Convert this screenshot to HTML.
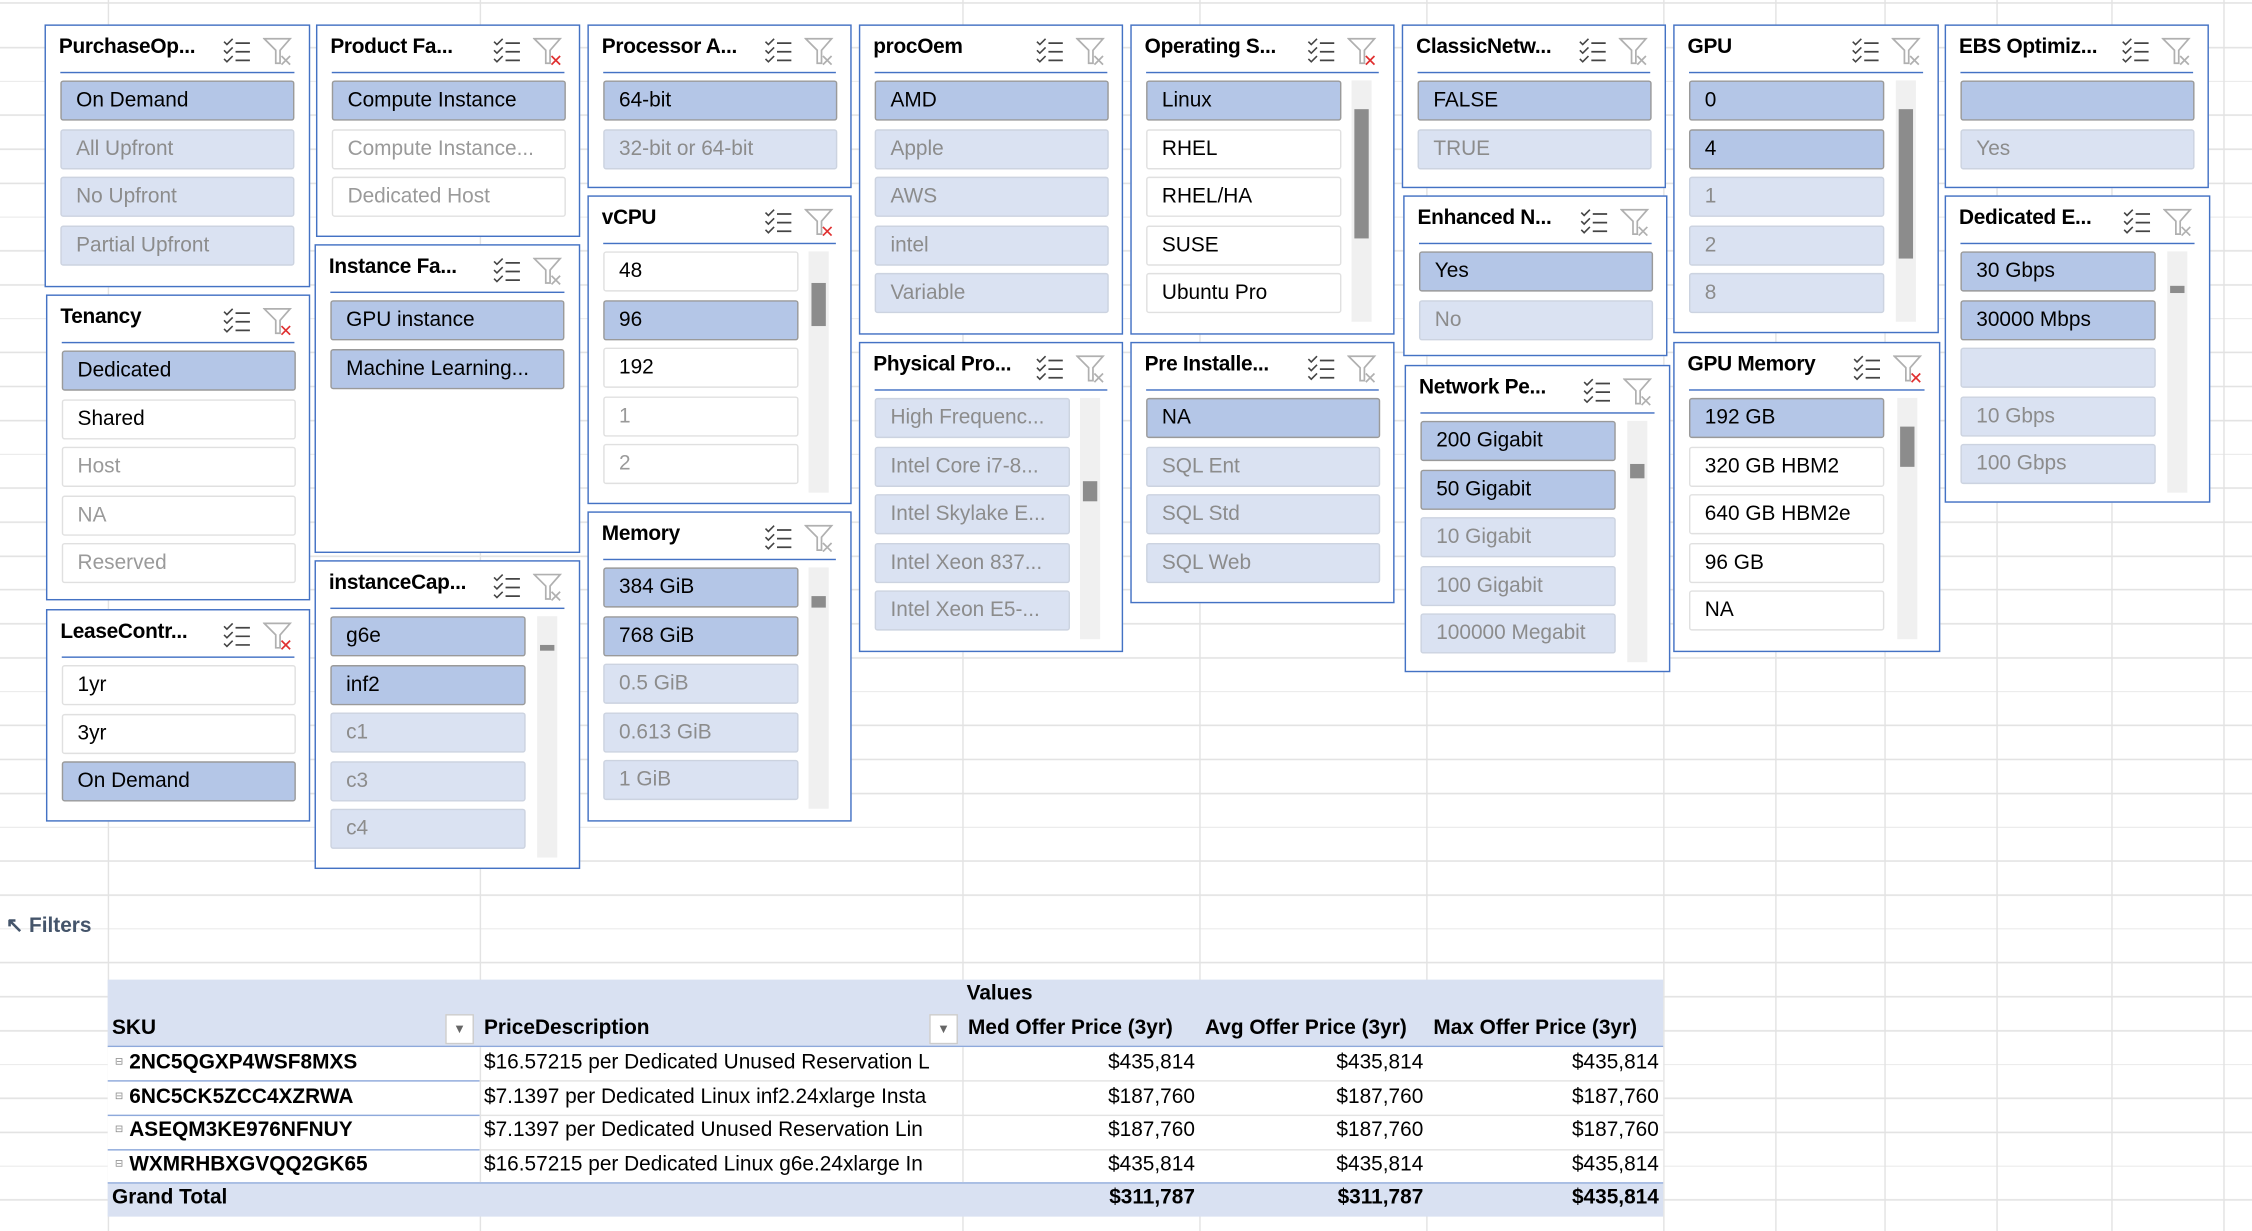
<!DOCTYPE html>
<html><head><meta charset="utf-8">
<style>
html,body{margin:0;padding:0;background:#fff;overflow:hidden}
#stage{position:absolute;left:0;top:0;width:1568px;height:857px;transform:scale(1.43622,1.4364);transform-origin:0 0;
 font-family:"Liberation Sans",sans-serif;
 background-image:repeating-linear-gradient(to bottom,transparent 0,transparent 22.6px,#e3e3e3 22.6px,#e3e3e3 23.6px);
 background-position:0 10px;}
.vl{position:absolute;top:0;width:1px;height:857px;background:#e3e3e3}
.slicer{position:absolute;background:#fff;border:1px solid #4472c4;box-sizing:border-box}
.st{position:absolute;left:9px;top:7px;font-weight:bold;font-size:14.5px;color:#000;letter-spacing:-0.2px}
.ul{position:absolute;left:10px;right:10px;top:32px;height:1px;background:#4472c4}
.it{position:absolute;height:28px;box-sizing:border-box;border:1px solid #e0e0e0;border-radius:2px;font-size:14.5px;line-height:26px;padding-left:10px;white-space:nowrap;overflow:hidden}
.sel{background:#b4c6e7;border-color:#9a9a9a;color:#000}
.selnd{background:#dae2f2;border-color:#ccd3e0;color:#8c8c8c}
.un{background:#fff;color:#000}
.und{background:#fff;color:#9a9a9a}
.sb{position:absolute;width:14px;background:#f0f0f0}
.th{position:absolute;left:2px;width:10px;background:#8c8c8c}
.ic{position:absolute;top:8px}
.tb{position:absolute;font-size:14.5px;white-space:nowrap}
.b{font-weight:bold}
</style></head><body>
<div id="stage">
<div class="vl" style="left:75px"></div><div class="vl" style="left:334px"></div><div class="vl" style="left:670px"></div>
<div class="vl" style="left:835px"></div><div class="vl" style="left:993px"></div><div class="vl" style="left:1158px"></div>
<div class="vl" style="left:1236px"></div><div class="vl" style="left:1312px"></div><div class="vl" style="left:1390px"></div><div class="vl" style="left:1470px"></div><div class="vl" style="left:1548px"></div>

<div id="slicers"></div>

<div class="tb" style="left:4px;top:637px;color:#44546a"><span style="font-weight:bold">↖ Filters</span></div>

<div>
<div style="position:absolute;left:75px;top:682px;width:1083px;height:47px;background:#d9e1f2"></div>
<div style="position:absolute;left:75px;top:823px;width:1083px;height:24px;background:#d9e1f2;border-top:1px solid #8ea9db;box-sizing:border-box"></div>
<div style="position:absolute;left:75px;top:728px;width:1083px;height:1px;background:#8ea9db"></div>
<div style="position:absolute;left:75px;top:729px;width:1083px;height:94px;background:#fff"></div>
<div style="position:absolute;left:75px;top:752px;width:259px;height:1px;background:#8ea9db"></div>
<div style="position:absolute;left:75px;top:776px;width:259px;height:1px;background:#8ea9db"></div>
<div style="position:absolute;left:75px;top:800px;width:259px;height:1px;background:#8ea9db"></div>
<div style="position:absolute;left:334px;top:752px;width:824px;height:1px;background:#e3e3e3"></div>
<div style="position:absolute;left:334px;top:776px;width:824px;height:1px;background:#e3e3e3"></div>
<div style="position:absolute;left:334px;top:800px;width:824px;height:1px;background:#e3e3e3"></div>
<div style="position:absolute;left:334px;top:729px;width:1px;height:94px;background:#e3e3e3"></div>
<div style="position:absolute;left:670px;top:729px;width:1px;height:94px;background:#e3e3e3"></div>
<div class="tb b" style="left:673px;top:684px">Values</div>
<div class="tb b" style="left:78px;top:708px">SKU</div>
<div style="position:absolute;left:310px;top:706px;width:20px;height:21px;background:#fff;border:1px solid #ccc;box-sizing:border-box;font-size:9px;color:#666;text-align:center;line-height:19px">▼</div>
<div class="tb b" style="left:337px;top:708px">PriceDescription</div>
<div style="position:absolute;left:647px;top:706px;width:20px;height:21px;background:#fff;border:1px solid #ccc;box-sizing:border-box;font-size:9px;color:#666;text-align:center;line-height:19px">▼</div>
<div class="tb b" style="left:674px;top:708px">Med Offer Price (3yr)</div>
<div class="tb b" style="left:839px;top:708px">Avg Offer Price (3yr)</div>
<div class="tb b" style="left:998px;top:708px">Max Offer Price (3yr)</div>
<div id="rows"></div>
</div>
</div>
<script>
const slicerDefs=[
 ['PurchaseOp...',31,17,216-31,200-17,false,[['On Demand','sel'],['All Upfront','selnd'],['No Upfront','selnd'],['Partial Upfront','selnd']],null],
 ['Tenancy',32,205,184,213,true,[['Dedicated','sel'],['Shared','un'],['Host','und'],['NA','und'],['Reserved','und']],null],
 ['LeaseContr...',32,424,184,148,true,[['1yr','un'],['3yr','un'],['On Demand','sel']],null],
 ['Product Fa...',220,17,184,148,true,[['Compute Instance','sel'],['Compute Instance...','und'],['Dedicated Host','und']],null],
 ['Instance Fa...',219,170,185,215,false,[['GPU instance','sel'],['Machine Learning...','sel']],null],
 ['instanceCap...',219,390,185,215,false,[['g6e','sel'],['inf2','sel'],['c1','selnd'],['c3','selnd'],['c4','selnd']],[20,4]],
 ['Processor A...',409,17,184,114,false,[['64-bit','sel'],['32-bit or 64-bit','selnd']],null],
 ['vCPU',409,136,184,215,true,[['48','un'],['96','sel'],['192','un'],['1','und'],['2','und']],[22,30]],
 ['Memory',409,356,184,216,false,[['384 GiB','sel'],['768 GiB','sel'],['0.5 GiB','selnd'],['0.613 GiB','selnd'],['1 GiB','selnd']],[20,8]],
 ['procOem',598,17,184,216,false,[['AMD','sel'],['Apple','selnd'],['AWS','selnd'],['intel','selnd'],['Variable','selnd']],null],
 ['Physical Pro...',598,238,184,216,false,[['High Frequenc...','selnd'],['Intel Core i7-8...','selnd'],['Intel Skylake E...','selnd'],['Intel Xeon 837...','selnd'],['Intel Xeon E5-...','selnd']],[58,14]],
 ['Operating S...',787,17,184,216,true,[['Linux','sel'],['RHEL','un'],['RHEL/HA','un'],['SUSE','un'],['Ubuntu Pro','un']],[20,90]],
 ['Pre Installe...',787,238,184,182,false,[['NA','sel'],['SQL Ent','selnd'],['SQL Std','selnd'],['SQL Web','selnd']],null],
 ['ClassicNetw...',976,17,184,114,false,[['FALSE','sel'],['TRUE','selnd']],null],
 ['Enhanced N...',977,136,184,112,false,[['Yes','sel'],['No','selnd']],null],
 ['Network Pe...',978,254,185,214,false,[['200 Gigabit','sel'],['50 Gigabit','sel'],['10 Gigabit','selnd'],['100 Gigabit','selnd'],['100000 Megabit','selnd']],[30,10]],
 ['GPU',1165,17,185,215,false,[['0','sel'],['4','sel'],['1','selnd'],['2','selnd'],['8','selnd']],[20,104]],
 ['GPU Memory',1165,238,186,216,true,[['192 GB','sel'],['320 GB HBM2','un'],['640 GB HBM2e','un'],['96 GB','un'],['NA','un']],[20,28]],
 ['EBS Optimiz...',1354,17,184,114,false,[['','sel'],['Yes','selnd']],null],
 ['Dedicated E...',1354,136,185,214,false,[['30 Gbps','sel'],['30000 Mbps','sel'],['','selnd'],['10 Gbps','selnd'],['100 Gbps','selnd']],[24,5]]
];
const host=document.getElementById('slicers');
function kebab(s){return s.toLowerCase().replace(/[^a-z0-9]+/g,'-').replace(/^-|-$/g,'')||'blank';}
slicerDefs.forEach(d=>{
 const [title,x,y,w,h,red,items,scroll]=d;
 const s=document.createElement('div');
 s.className='slicer';
 s.style.cssText=`left:${x}px;top:${y}px;width:${w}px;height:${h}px`;
 
 
 const t=document.createElement('div');t.className='st';t.textContent=title;
 
 
 s.appendChild(t);
 const ms=document.createElementNS('http://www.w3.org/2000/svg','svg');
 ms.setAttribute('class','ic');ms.setAttribute('width','20');ms.setAttribute('height','18');
 ms.style.left=(w-62)+'px';
 ms.innerHTML='<path d="M1 3l2 2 4-4M1 9l2 2 4-4M1 15l2 2 4-4" stroke="#444" fill="none" stroke-width="1.1"/><path d="M9 4h10M9 10h10M9 16h10" stroke="#444" stroke-width="1.2"/>';
 
 
 s.appendChild(ms);
 const fi=document.createElementNS('http://www.w3.org/2000/svg','svg');
 fi.setAttribute('class','ic');fi.setAttribute('width','22');fi.setAttribute('height','20');
 fi.style.left=(w-34)+'px';
 const xc=red?'#e03030':'#b0b0b0';
 fi.innerHTML='<path d="M1 1h18l-7 8v9h-3v-9z" stroke="#b0b0b0" fill="none" stroke-width="1.2"/><path d="M13 13l6 6M19 13l-6 6" stroke="'+xc+'" stroke-width="1.2"/>';
 
 
 s.appendChild(fi);
 const ul=document.createElement('div');ul.className='ul';s.appendChild(ul);
 const iw=scroll?136:163;
 items.forEach((it,i)=>{
  const e=document.createElement('div');
  e.className='it '+it[1];
  e.style.cssText=`left:10px;top:${38+i*33.5}px;width:${iw}px`;
  e.textContent=it[0];
  
  
  s.appendChild(e);
 });
 if(scroll){
  const sb=document.createElement('div');sb.className='sb';
  const tot=Math.min(items.length*33.5, h-42);
  sb.style.cssText=`left:${w-31}px;top:38px;height:${tot}px`;
  
  
  const th=document.createElement('div');th.className='th';
  th.style.cssText=`top:${scroll[0]}px;height:${scroll[1]}px`;
  
  
  sb.appendChild(th);s.appendChild(sb);
 }
 host.appendChild(s);
});
const skus=['2NC5QGXP4WSF8MXS','6NC5CK5ZCC4XZRWA','ASEQM3KE976NFNUY','WXMRHBXGVQQ2GK65'];
const descs=['$16.57215 per Dedicated Unused Reservation L','$7.1397 per Dedicated Linux inf2.24xlarge Insta','$7.1397 per Dedicated Unused Reservation Lin','$16.57215 per Dedicated Linux g6e.24xlarge In'];
const med=['$435,814','$187,760','$187,760','$435,814'];
const avg=['$435,814','$187,760','$187,760','$435,814'];
const mx=['$435,814','$187,760','$187,760','$435,814'];
const totals=['$311,787','$311,787','$435,814'];
const rows=document.getElementById('rows');
function cell(txt,left,top,opts){
 const e=document.createElement('div');e.className='tb'+(opts.bold?' b':'');
 e.style.left=left+'px';e.style.top=top+'px';
 if(opts.w){e.style.width=opts.w+'px';e.style.overflow='hidden';}
 if(opts.right!==undefined){e.style.left='auto';e.style.right=(1568-opts.right)+'px';}
 e.textContent=txt;
 
 
 rows.appendChild(e);
}
skus.forEach((s,i)=>{
 const y=732+i*23.6;
 cell('⊟',80,y+3,{name:'expand-toggle'});
 rows.lastChild.style.fontSize='7px';rows.lastChild.style.color='#888';
 cell(s,90,y,{bold:true,name:'sku-cell'});
 cell(descs[i],337,y,{w:332,name:'price-description-cell'});
 cell(med[i],0,y,{right:832,name:'med-offer-cell'});
 cell(avg[i],0,y,{right:991,name:'avg-offer-cell'});
 cell(mx[i],0,y,{right:1155,name:'max-offer-cell'});
});
cell('Grand Total',78,826,{bold:true,name:'grand-total-label'});
cell(totals[0],0,826,{bold:true,right:832,name:'grand-total-med'});
cell(totals[1],0,826,{bold:true,right:991,name:'grand-total-avg'});
cell(totals[2],0,826,{bold:true,right:1155,name:'grand-total-max'});
</script>
</body></html>
